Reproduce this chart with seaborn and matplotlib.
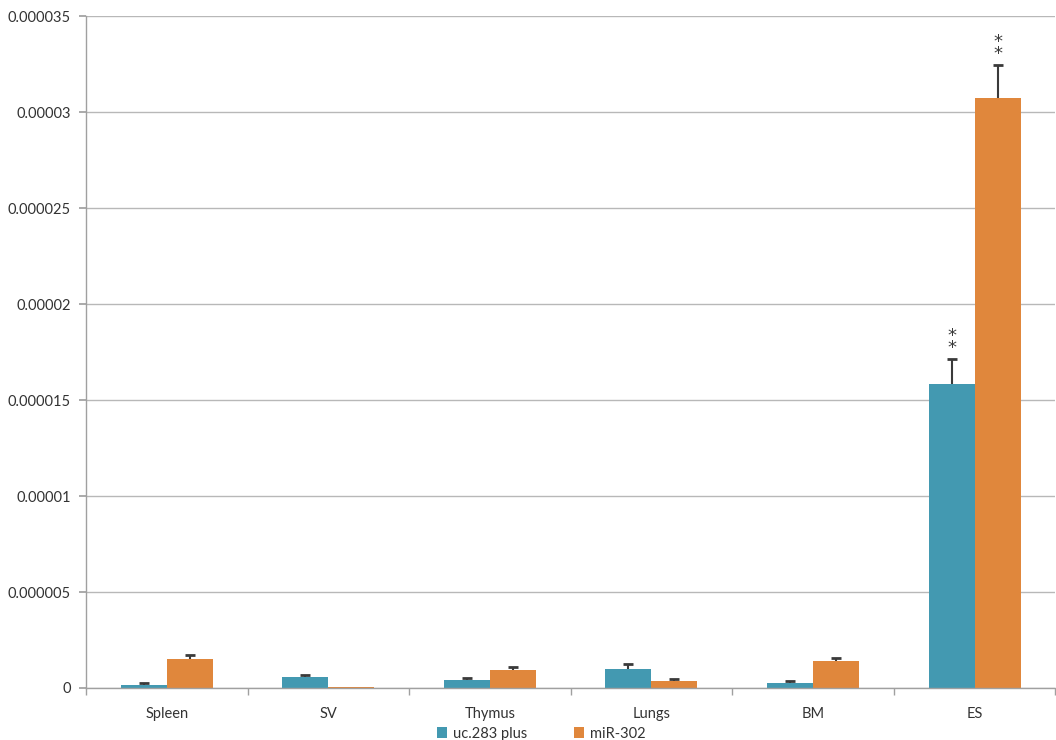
import matplotlib
matplotlib.use("Agg")
import matplotlib.pyplot as plt
import seaborn as sns
import pandas as pd
import numpy as np

# Expression levels per tissue
tissues = ["Spleen", "SV", "Thymus", "Lungs", "BM", "ES"]
series = ["uc.283 plus", "miR-302"]
uc283_values = [0.15e-6, 0.56e-6, 0.43e-6, 0.97e-6, 0.24e-6, 15.83e-6]
uc283_err = [0.12e-6, 0.10e-6, 0.09e-6, 0.26e-6, 0.11e-6, 1.29e-6]
mir302_values = [1.53e-6, 0.04e-6, 0.94e-6, 0.36e-6, 1.41e-6, 30.77e-6]
mir302_err = [0.19e-6, 0.0, 0.14e-6, 0.13e-6, 0.14e-6, 1.68e-6]
significant = [False, False, False, False, False, True]

y_ticks = [0, 0.000005, 0.00001, 0.000015, 0.00002, 0.000025, 0.00003, 0.000035]
y_tick_labels = ["0", "0.000005", "0.00001", "0.000015", "0.00002", "0.000025", "0.00003", "0.000035"]

colors = ["#4399B1", "#E0873C"]

df = pd.DataFrame({
    "tissue": tissues * 2,
    "series": [series[0]] * len(tissues) + [series[1]] * len(tissues),
    "value": uc283_values + mir302_values,
    "err": uc283_err + mir302_err,
})

sns.set_theme(style="white")
plt.rcParams["font.family"] = ["Lato", "DejaVu Sans"]

fig = plt.figure(figsize=(10.56, 7.40), dpi=100)
ax = fig.add_axes([0.0814, 0.0703, 0.918, 0.9075])

sns.barplot(data=df, x="tissue", y="value", hue="series", palette=colors,
            order=tissues, hue_order=series, width=0.57, saturation=1,
            errorbar=None, linewidth=0, ax=ax, legend=True)

# Upward-only error bars (cap on top only) and significance marks
errs = [uc283_err, mir302_err]
bar_containers = list(ax.containers)[:len(series)]
for s_idx, container in enumerate(bar_containers):
    for t_idx, bar in enumerate(container.patches):
        xc = bar.get_x() + bar.get_width() / 2
        h = bar.get_height()
        e = errs[s_idx][t_idx]
        if e > 0:
            ax.vlines(xc, h, h + e, colors="#3a3a3a", linewidth=1.5, zorder=4)
            ax.plot([xc], [h + e], marker="_", markersize=7, mew=2,
                    color="#3a3a3a", zorder=4)
        if significant[t_idx]:
            ax.text(xc, h + e + 0.12e-6, "*\n*", ha="center", va="bottom",
                    fontsize=13, color="#3a3a3a", linespacing=0.6,
                    family=["DejaVu Sans"])

ax.set_ylim(0, 0.000035)
ax.set_xlim(-0.5, len(tissues) - 0.5)
ax.set_yticks(y_ticks)
ax.set_yticklabels(y_tick_labels)
ax.yaxis.grid(True, color="#b8b8b8", linewidth=1)
ax.set_axisbelow(True)
ax.set_xlabel("")
ax.set_ylabel("")

for side in ["top", "right"]:
    ax.spines[side].set_visible(False)
for side in ["left", "bottom"]:
    ax.spines[side].set_color("#a0a0a0")
    ax.spines[side].set_linewidth(1)

ax.tick_params(axis="y", left=True, length=5, color="#a0a0a0", labelsize=10.5,
               labelcolor="#333333", pad=6)
ax.tick_params(axis="x", bottom=False, labelsize=10.5, labelcolor="#333333", pad=8)

# Category boundary ticks on the x axis
ax.set_xticks(np.arange(-0.5, len(tissues) + 0.5, 1), minor=True)
ax.tick_params(axis="x", which="minor", bottom=True, length=5, color="#a0a0a0")

leg = ax.legend(loc="upper center", bbox_to_anchor=(0.47, -0.038), ncol=2,
                frameon=False, fontsize=10.5, handlelength=0.7, handleheight=0.7,
                columnspacing=3.2, handletextpad=0.4)
for t in leg.get_texts():
    t.set_color("#333333")

fig.savefig("out.png", dpi=100)
